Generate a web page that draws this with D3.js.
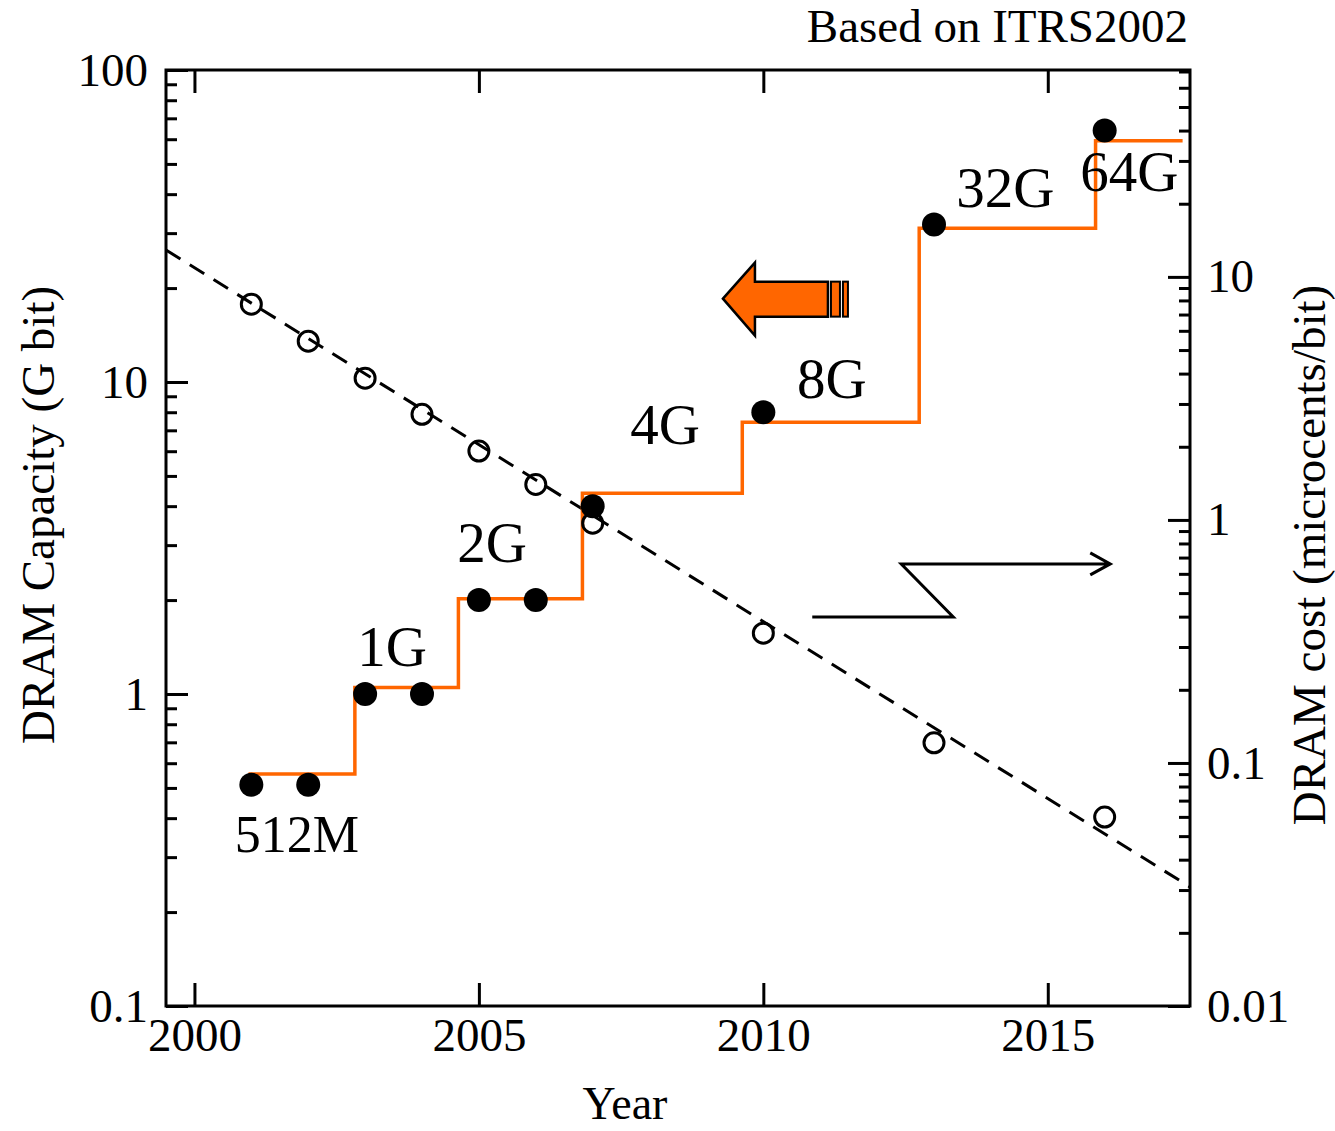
<!DOCTYPE html>
<html>
<head>
<meta charset="utf-8">
<script src="https://cdn.jsdelivr.net/npm/d3@7"></script>
<style>
  body { margin: 0; background: #fff; }
  svg text { font-family: "Liberation Serif", "Times New Roman", serif; fill: #000; }
</style>
</head>
<body>
<svg id="chart" width="1335" height="1131"></svg>
<script>
// Data
const years = [2001, 2002, 2003, 2004, 2005, 2006, 2007, 2010, 2013, 2016];
const capacity = [0.512, 0.512, 1, 1, 2, 2, 4, 8, 32, 64];        // G bit (left axis)
const cost = [7.72, 5.44, 3.83, 2.72, 1.92, 1.40, 0.97, 0.342, 0.121, 0.0599]; // microcents/bit (right axis)

// Orange step line (capacity generations)
const stepYears = [2000.95, 2002.82, 2004.64, 2006.82, 2009.63, 2012.74, 2015.84, 2017.37];
const stepLevels = [0.554, 1.05, 2.02, 4.4, 7.43, 31.1, 59.3];

// Dashed cost trend
const trendYears = [1999.5, 2017.5];
const trendCost = [12.9, 0.0309];

// Generation labels
const genLabels = ["512M", "1G", "2G", "4G", "8G", "32G", "64G"];
const genLabelYears = [2000.71, 2002.86, 2004.62, 2007.66, 2010.59, 2013.39, 2015.57];
const genLabelValues = [0.311, 1.229, 2.65, 6.33, 8.89, 36.4, 40.9];

// Ticks
const xTicks = [2000, 2005, 2010, 2015];
const leftTicks = [0.1, 1, 10, 100];
const rightTicks = [0.01, 0.1, 1, 10];

const orange = "#ff6600";
const pLeft = 166, pRight = 1190, pTop = 70, pBottom = 1006;

const svg = d3.select("#chart");

const x = d3.scaleLinear().domain([1999.5, 2017.5]).range([pLeft, pRight]);
const yL = d3.scaleLog().domain([0.1, 100]).range([pBottom, pTop]);
const yR = d3.scaleLog().domain([0.01, 71]).range([pBottom, pTop]);

const fmt = d => d3.format("~g")(d);
const isMajor = (v, list) => list.some(m => Math.abs(v - m) / m < 1e-6);

function styleAxis(g, size) {
  g.select(".domain").remove();
  g.selectAll(".tick line").attr("stroke", "#000").attr("stroke-width", 3);
  g.selectAll("text").attr("font-size", size).attr("font-family", null).attr("fill", "#000");
  g.attr("font-family", null).attr("font-size", null);
}

// Left axis: major + minor ticks pointing inward
svg.append("g").attr("transform", `translate(${pLeft},0)`)
  .call(d3.axisLeft(yL).tickValues(leftTicks).tickSize(-22).tickPadding(18).tickFormat(fmt))
  .call(g => styleAxis(g, 47));
svg.append("g").attr("transform", `translate(${pLeft},0)`)
  .call(d3.axisLeft(yL).tickValues(yL.ticks().filter(v => !isMajor(v, leftTicks))).tickSize(-11).tickFormat(""))
  .call(g => styleAxis(g, 47));

// Right axis
svg.append("g").attr("transform", `translate(${pRight},0)`)
  .call(d3.axisRight(yR).tickValues(rightTicks).tickSize(-22).tickPadding(17).tickFormat(fmt))
  .call(g => styleAxis(g, 47));
svg.append("g").attr("transform", `translate(${pRight},0)`)
  .call(d3.axisRight(yR).tickValues(yR.ticks().filter(v => !isMajor(v, rightTicks))).tickSize(-11).tickFormat(""))
  .call(g => styleAxis(g, 47));

// Bottom and top axes
svg.append("g").attr("transform", `translate(0,${pBottom})`)
  .call(d3.axisBottom(x).tickValues(xTicks).tickSize(-23).tickPadding(12).tickFormat(d3.format("d")))
  .call(g => styleAxis(g, 47));
svg.append("g").attr("transform", `translate(0,${pTop})`)
  .call(d3.axisTop(x).tickValues(xTicks).tickSize(-23).tickFormat(""))
  .call(g => styleAxis(g, 47));

// Frame
svg.append("rect")
  .attr("x", pLeft).attr("y", pTop)
  .attr("width", pRight - pLeft).attr("height", pBottom - pTop)
  .attr("fill", "none").attr("stroke", "#000").attr("stroke-width", 3);

// Dashed trend line
svg.append("path")
  .datum(trendYears.map((t, i) => [t, trendCost[i]]))
  .attr("d", d3.line().x(d => x(d[0])).y(d => yR(d[1])))
  .attr("fill", "none").attr("stroke", "#000").attr("stroke-width", 3)
  .attr("stroke-dasharray", "17,11");

// Orange step line
const stepPts = stepLevels.map((v, i) => [stepYears[i], v]);
stepPts.push([stepYears[stepYears.length - 1], stepLevels[stepLevels.length - 1]]);
svg.append("path")
  .datum(stepPts)
  .attr("d", d3.line().x(d => x(d[0])).y(d => yL(d[1])).curve(d3.curveStepAfter))
  .attr("fill", "none").attr("stroke", orange).attr("stroke-width", 3.5);

// Open circles: cost
svg.append("g").selectAll("circle")
  .data(years.map((t, i) => [t, cost[i]]))
  .join("circle")
  .attr("cx", d => x(d[0])).attr("cy", d => yR(d[1])).attr("r", 10)
  .attr("fill", "none").attr("stroke", "#000").attr("stroke-width", 3);

// Filled circles: capacity
svg.append("g").selectAll("circle")
  .data(years.map((t, i) => [t, capacity[i]]))
  .join("circle")
  .attr("cx", d => x(d[0])).attr("cy", d => yL(d[1])).attr("r", 12)
  .attr("fill", "#000");

// Generation labels
svg.append("g").selectAll("text")
  .data(genLabels)
  .join("text")
  .attr("x", (d, i) => x(genLabelYears[i]))
  .attr("y", (d, i) => yL(genLabelValues[i]))
  .attr("font-size", d => d === "512M" ? 52 : 57)
  .text(d => d);

// Big orange arrow pointing to the left axis
const arrow = svg.append("g")
  .attr("transform", `translate(${x(2009.29)},${yL(18.5)})`);
arrow.append("path")
  .attr("d", "M0,0 L32,-36 L32,-17 L105,-17 L105,18 L32,18 L32,37 Z")
  .attr("fill", orange).attr("stroke", "#000").attr("stroke-width", 2.5).attr("stroke-linejoin", "miter");
[[108, 9], [120, 5]].forEach(([rx, rw]) => {
  arrow.append("rect")
    .attr("x", rx).attr("y", -17).attr("width", rw).attr("height", 35)
    .attr("fill", orange).attr("stroke", "#000").attr("stroke-width", 2);
});

// Zigzag arrow pointing to the right axis
const zig = svg.append("g")
  .attr("transform", `translate(${x(2010.86)},${yL(1.766)})`);
zig.append("path")
  .attr("d", "M0,0 L141,0 L89,-53 L298,-53 M278,-64 L298,-53 L278,-42")
  .attr("fill", "none").attr("stroke", "#000").attr("stroke-width", 3);

// Titles
svg.append("text")
  .attr("transform", `translate(54,515) rotate(-90)`)
  .attr("text-anchor", "middle").attr("font-size", 47)
  .text("DRAM Capacity (G bit)");
svg.append("text")
  .attr("transform", `translate(1325,555) rotate(-90)`)
  .attr("text-anchor", "middle").attr("font-size", 47)
  .text("DRAM cost (microcents/bit)");
svg.append("text")
  .attr("x", 625).attr("y", 1119)
  .attr("text-anchor", "middle").attr("font-size", 46)
  .text("Year");
svg.append("text")
  .attr("x", 1188).attr("y", 42)
  .attr("text-anchor", "end").attr("font-size", 47)
  .text("Based on ITRS2002");
</script>
</body>
</html>
